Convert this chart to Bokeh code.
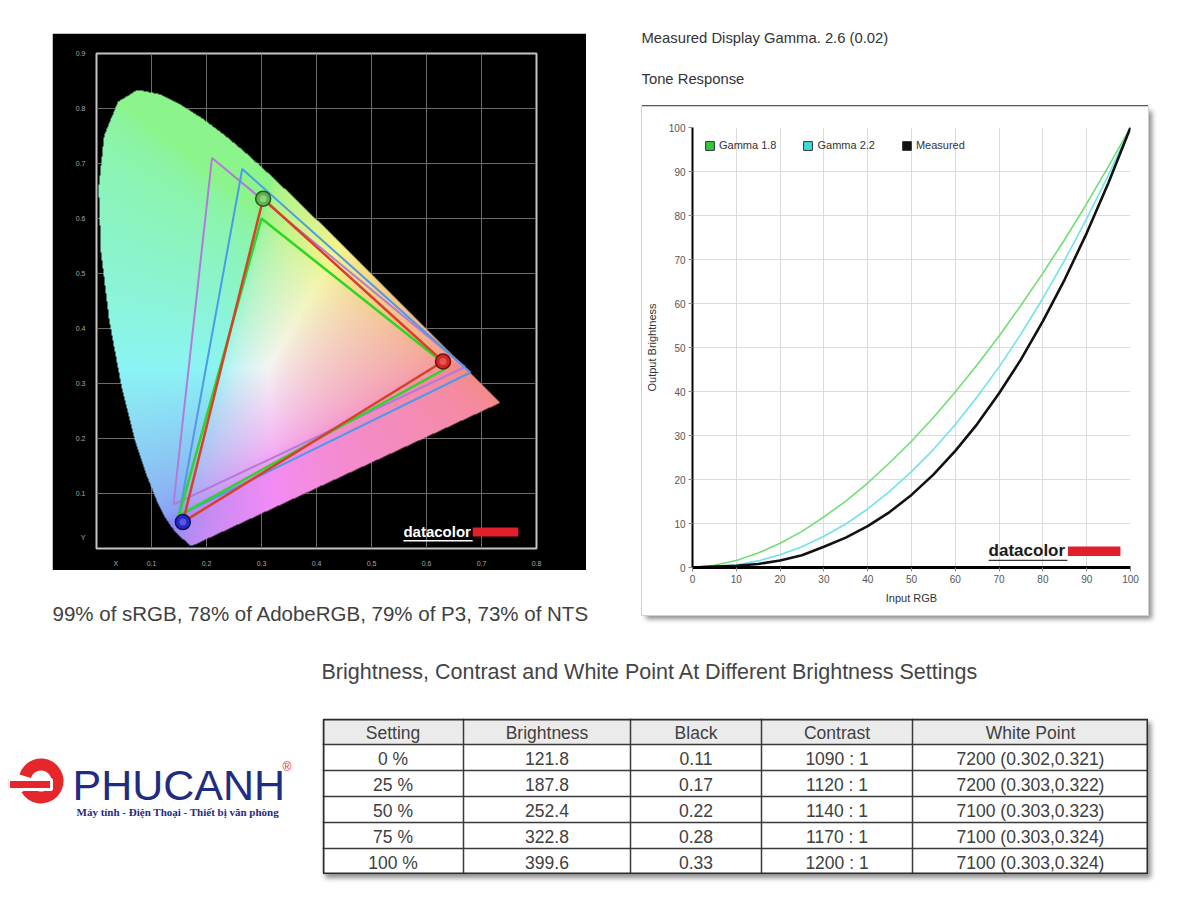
import numpy as np
from bokeh.plotting import figure
from bokeh.models import (Range1d, FixedTicker, Spacer, ColumnDataSource, Legend,
                          LegendItem)
from bokeh.layouts import column, row
from bokeh.core.properties import value
from bokeh.embed import file_html
from bokeh.resources import INLINE

FONT = "Liberation Sans"

# ------------------------------------------------------------------ data
# CIE 1931 spectral locus (380-700 nm)
locus_x = [0.1741, 0.1740, 0.1738, 0.1736, 0.1733, 0.1730, 0.1726, 0.1721, 0.1714,
           0.1703, 0.1689, 0.1669, 0.1644, 0.1611, 0.1566, 0.1510, 0.1440, 0.1355,
           0.1241, 0.1096, 0.0913, 0.0687, 0.0454, 0.0235, 0.0082, 0.0039, 0.0139,
           0.0389, 0.0743, 0.1142, 0.1547, 0.1929, 0.2296, 0.2658, 0.3016, 0.3373,
           0.3731, 0.4087, 0.4441, 0.4788, 0.5125, 0.5448, 0.5752, 0.6029, 0.6270,
           0.6482, 0.6658, 0.6801, 0.6915, 0.7006, 0.7079, 0.7140, 0.7190, 0.7230,
           0.7260, 0.7283, 0.7300, 0.7311, 0.7320, 0.7334, 0.7344, 0.7347]
locus_y = [0.0050, 0.0050, 0.0049, 0.0049, 0.0048, 0.0048, 0.0048, 0.0048, 0.0051,
           0.0058, 0.0069, 0.0086, 0.0109, 0.0138, 0.0177, 0.0227, 0.0297, 0.0399,
           0.0578, 0.0868, 0.1327, 0.2007, 0.2950, 0.4127, 0.5384, 0.6548, 0.7502,
           0.8120, 0.8338, 0.8262, 0.8059, 0.7816, 0.7543, 0.7243, 0.6923, 0.6589,
           0.6245, 0.5896, 0.5547, 0.5202, 0.4866, 0.4544, 0.4242, 0.3965, 0.3725,
           0.3514, 0.3340, 0.3197, 0.3083, 0.2993, 0.2920, 0.2859, 0.2809, 0.2770,
           0.2740, 0.2717, 0.2700, 0.2689, 0.2680, 0.2666, 0.2656, 0.2653]

# gamut triangles (R, G, B vertices)
ntsc_x = [0.67, 0.21, 0.14]
ntsc_y = [0.33, 0.71, 0.08]
p3_x = [0.68, 0.265, 0.15]
p3_y = [0.32, 0.69, 0.06]
srgb_x = [0.64, 0.30, 0.15]
srgb_y = [0.33, 0.60, 0.06]
meas_x = [0.630, 0.303, 0.157]
meas_y = [0.340, 0.636, 0.048]

cie_x_ticks = [0.035, 0.1, 0.2, 0.3, 0.4, 0.5, 0.6, 0.7, 0.8]
cie_x_labels = ["X", "0.1", "0.2", "0.3", "0.4", "0.5", "0.6", "0.7", "0.8"]
cie_y_ticks = [0.02, 0.1, 0.2, 0.3, 0.4, 0.5, 0.6, 0.7, 0.8, 0.9]
cie_y_labels = ["Y", "0.1", "0.2", "0.3", "0.4", "0.5", "0.6", "0.7", "0.8", "0.9"]
cie_grid_x = [0.1, 0.2, 0.3, 0.4, 0.5, 0.6, 0.7]
cie_grid_y = [0.1, 0.2, 0.3, 0.4, 0.5, 0.6, 0.7, 0.8]

coverage_text = "99% of sRGB, 78% of AdobeRGB, 79% of P3, 73% of NTS"

# tone response
input_rgb = [0, 5, 10, 15, 20, 25, 30, 35, 40, 45, 50, 55, 60, 65, 70, 75, 80, 85, 90, 95, 100]
gamma18 = [0, 0.5, 1.6, 3.3, 5.5, 8.2, 11.5, 15.1, 19.2, 23.8, 28.7, 34.1, 39.9, 46.1,
           52.6, 59.6, 66.9, 74.6, 82.7, 91.2, 100]
gamma22 = [0, 0.1, 0.6, 1.5, 2.9, 4.7, 7.1, 9.9, 13.3, 17.3, 21.8, 26.8, 32.5, 38.8,
           45.6, 53.1, 61.2, 69.9, 79.3, 89.3, 100]
measured = [0, 0.2, 0.4, 0.8, 1.6, 2.8, 4.7, 6.8, 9.4, 12.6, 16.5, 21.1, 26.5, 32.6,
            39.6, 47.3, 56.0, 65.5, 76.0, 87.5, 100]
tone_ticks = [0, 10, 20, 30, 40, 50, 60, 70, 80, 90, 100]
gamma_text = "Measured Display Gamma. 2.6 (0.02)"

# table
table_title = "Brightness, Contrast and White Point At Different Brightness Settings"
table_headers = ["Setting", "Brightness", "Black", "Contrast", "White Point"]
settings = [0, 25, 50, 75, 100]
brightness = [121.8, 187.8, 252.4, 322.8, 399.6]
black = [0.11, 0.17, 0.22, 0.28, 0.33]
contrast = [1090, 1120, 1140, 1170, 1200]
wp_cct = [7200, 7200, 7100, 7100, 7100]
wp_x = [0.302, 0.303, 0.303, 0.303, 0.303]
wp_y = [0.321, 0.322, 0.323, 0.324, 0.324]

# ------------------------------------------------------------------ helpers
def blank_fig(w, h, flip=True):
    p = figure(width=w, height=h, x_range=Range1d(0, w),
               y_range=Range1d(h, 0) if flip else Range1d(0, h),
               x_axis_type=None, y_axis_type=None, min_border=0,
               outline_line_color=None, toolbar_location=None,
               output_backend="svg", background_fill_color="white",
               border_fill_color="white")
    return p


def add_text(p, x, y, s, size, color="#333333", font=FONT, style="normal",
             align="left", baseline="middle"):
    p.text(x=[x], y=[y], text=[s], text_font=value(font), text_font_size=size,
           text_color=color, text_font_style=style, text_align=align,
           text_baseline=baseline)


# ------------------------------------------------------------------ CIE chart
cie = figure(width=534, height=537, x_range=Range1d(0, 0.8), y_range=Range1d(0, 0.9),
             toolbar_location=None, output_backend="svg",
             min_border_left=44, min_border_right=50, min_border_top=20,
             min_border_bottom=22, background_fill_color="black",
             border_fill_color="black", outline_line_color="#c4c4c4",
             outline_line_width=2)

nx, ny = 440, 495
gx = (np.arange(nx) + 0.5) / nx * 0.8
gy = (np.arange(ny) + 0.5) / ny * 0.9
GX, GY = np.meshgrid(gx, gy)
lx = np.array(locus_x)
ly = np.array(locus_y)
inside = np.zeros(GX.shape, dtype=bool)
j = len(lx) - 1
for i in range(len(lx)):
    xi, yi, xj, yj = lx[i], ly[i], lx[j], ly[j]
    cond = (yi > GY) != (yj > GY)
    xint = (xj - xi) * (GY - yi) / ((yj - yi) if yj != yi else 1e-12) + xi
    inside ^= cond & (GX < xint)
    j = i
Ys = np.maximum(GY, 1e-3)
Xc = GX / Ys
Zc = (1 - GX - GY) / Ys
R = 3.2406 * Xc - 1.5372 - 0.4986 * Zc
G = -0.9689 * Xc + 1.8758 + 0.0415 * Zc
B = 0.0557 * Xc - 0.2040 + 1.0570 * Zc
rgb = np.clip(np.stack([R, G, B], -1), 0, None)
rgb = rgb / np.maximum(rgb.max(-1, keepdims=True), 1e-6)
rgb = rgb ** (1 / 2.2)
rgb = (0.57 + 0.43 * rgb) * 0.96
img = np.zeros((ny, nx, 4), dtype=np.uint8)
img[..., :3] = (rgb * 255).astype(np.uint8)
img[..., 3] = np.where(inside, 255, 0)
img32 = img.view(dtype=np.uint32).reshape((ny, nx))
cie.image_rgba(image=[img32], x=0, y=0, dw=0.8, dh=0.9)

for gxs, gys, col, lw in [(ntsc_x, ntsc_y, "#b57ad8", 2),
                          (p3_x, p3_y, "#4d9ae6", 2),
                          (srgb_x, srgb_y, "#2ad62a", 2.5),
                          (meas_x, meas_y, "#d8402a", 2.5)]:
    cie.line(x=gxs + gxs[:1], y=gys + gys[:1], line_color=col, line_width=lw)

cie.scatter(x=meas_x, y=meas_y, size=15,
            fill_color=["#d42626", "#5cb34c", "#2828c8"],
            line_color=["#6e1010", "#2a5a24", "#101060"], line_width=1.5)
cie.scatter(x=meas_x, y=meas_y, size=7,
            fill_color=["#f06a5a", "#a6e08c", "#6a6af0"], line_color=None,
            fill_alpha=0.7)

# datacolor logo
cie.text(x=[0.558], y=[0.031], text=["datacolor"], text_font=value(FONT),
         text_font_size="15px", text_font_style="bold", text_color="white",
         text_baseline="middle")
cie.quad(left=[0.684], right=[0.767], bottom=[0.022], top=[0.038],
         fill_color="#e0202c", line_color=None)
cie.segment(x0=[0.558], y0=[0.014], x1=[0.684], y1=[0.014], line_color="white",
            line_width=1.5)

cie.xaxis.ticker = FixedTicker(ticks=cie_x_ticks)
cie.yaxis.ticker = FixedTicker(ticks=cie_y_ticks)
cie.xaxis.major_label_overrides = dict(zip(cie_x_ticks, cie_x_labels))
cie.yaxis.major_label_overrides = dict(zip(cie_y_ticks, cie_y_labels))
cie.xgrid.ticker = FixedTicker(ticks=cie_grid_x)
cie.ygrid.ticker = FixedTicker(ticks=cie_grid_y)
cie.grid.grid_line_color = "#6b6b6b"
cie.grid.grid_line_width = 1
for ax in (cie.xaxis, cie.yaxis):
    ax.axis_line_color = None
    ax.major_tick_line_color = None
    ax.minor_tick_line_color = None
    ax.major_label_text_color = "#a8a8a8"
    ax.major_label_text_font_size = "7px"
    ax.major_label_text_font = FONT
    ax.major_label_standoff = 5

caption_fig = blank_fig(568, 70)
add_text(caption_fig, 0, 43, coverage_text, "20.5px", color="#404040")

left_col = column(Spacer(width=612, height=25),
                  row(Spacer(width=44, height=537), cie),
                  row(Spacer(width=44, height=70), caption_fig))

# ------------------------------------------------------------------ tone response
head_fig = blank_fig(572, 99)
add_text(head_fig, 21, 29, gamma_text, "14.8px")
add_text(head_fig, 21, 70, "Tone Response", "14.8px")

tone = figure(width=506, height=508, x_range=Range1d(0, 100), y_range=Range1d(0, 100),
              toolbar_location=None, output_backend="svg",
              min_border_left=46, min_border_right=18, min_border_top=20,
              min_border_bottom=48, outline_line_color=None,
              background_fill_color="white", border_fill_color="white")
tone.styles = {"box-shadow": "0px -2px 0px #5a5a5a, 4px 4px 5px rgba(0,0,0,0.45)",
               "outline": "1px solid #d0d0d0"}
src = ColumnDataSource(dict(x=input_rgb, g18=gamma18, g22=gamma22, m=measured))
tone.line("x", "g18", source=src, line_color="#72de72", line_width=1.6)
tone.line("x", "g22", source=src, line_color="#6fe3ec", line_width=1.6)
tone.line("x", "m", source=src, line_color="#111111", line_width=2.6)

tone.text(x=[67.6], y=[3.9], text=["datacolor"], text_font=value(FONT),
          text_font_size="17px", text_font_style="bold", text_color="#1a1a1a",
          text_baseline="middle")
tone.quad(left=[85.7], right=[97.7], bottom=[2.6], top=[4.8],
          fill_color="#e0202c", line_color=None)
tone.segment(x0=[67.6], y0=[1.6], x1=[85.6], y1=[1.6], line_color="#333333",
             line_width=1.2)

nan = [float("nan")]
q1 = tone.quad(left=nan, right=nan, top=nan, bottom=nan, fill_color="#2ecc3a", line_color="#333333")
q2 = tone.quad(left=nan, right=nan, top=nan, bottom=nan, fill_color="#3edcdc", line_color="#333333")
q3 = tone.quad(left=nan, right=nan, top=nan, bottom=nan, fill_color="#111111", line_color="#333333")
legend = Legend(items=[LegendItem(label="Gamma 1.8", renderers=[q1]),
                       LegendItem(label="Gamma 2.2", renderers=[q2]),
                       LegendItem(label="Measured", renderers=[q3])],
                location="top_left", orientation="horizontal",
                background_fill_alpha=0, border_line_color=None,
                label_text_font_size="11px", label_text_font=FONT,
                label_text_color="#333333", glyph_width=11, glyph_height=11,
                spacing=26, label_standoff=4, padding=3, margin=12)
tone.add_layout(legend)

tone.xaxis.ticker = FixedTicker(ticks=tone_ticks)
tone.yaxis.ticker = FixedTicker(ticks=tone_ticks)
tone.grid.grid_line_color = "#dcdcdc"
tone.xaxis.axis_line_width = 3
tone.yaxis.axis_line_width = 2
for ax in (tone.xaxis, tone.yaxis):
    ax.axis_line_color = "black"
    ax.major_tick_line_color = "#888888"
    ax.major_tick_out = 4
    ax.major_tick_in = 0
    ax.minor_tick_line_color = None
    ax.major_label_text_color = "#555555"
    ax.major_label_text_font_size = "10px"
    ax.major_label_text_font = FONT
    ax.major_label_standoff = 3
    ax.axis_label_text_font_size = "11px"
    ax.axis_label_text_font = FONT
    ax.axis_label_text_font_style = "normal"
    ax.axis_label_text_color = "#333333"
tone.xaxis.axis_label = "Input RGB"
tone.yaxis.axis_label = "Output Brightness"
tone.xaxis.axis_label_standoff = 6
tone.yaxis.axis_label_standoff = 8

right_col = column(head_fig, row(Spacer(width=22, height=508), tone))

top_row = row(left_col, right_col)

# ------------------------------------------------------------------ logo
logo = blank_fig(308, 252, flip=False)
logo.annular_wedge(x=[32.5], y=[111.5], inner_radius=10.5, outer_radius=22.5,
                   start_angle=-150, end_angle=163, start_angle_units="deg",
                   end_angle_units="deg", fill_color="#e5262b", line_color=None)
logo.quad(left=[0], right=[43], bottom=[103], top=[113], fill_color="#e5262b",
          line_color="white", line_width=3)
add_text(logo, 64, 108, "PHUCANH", "43px", color="#1f2c82")
add_text(logo, 274, 126, "®", "12px", color="#e03030")
add_text(logo, 68, 81, "Máy tính - Điện Thoại - Thiết bị văn phòng", "11px",
         color="#1f2c82", font="Liberation Serif", style="bold")

# ------------------------------------------------------------------ table
title_fig = blank_fig(876, 78)
add_text(title_fig, 5, 31, table_title, "21.5px", color="#444444")

TW, TH = 826, 156
col_edges = [0, 141, 308, 439, 590, 826]
row_h = 26
tbl = blank_fig(TW, TH)
tbl.styles = {"box-shadow": "3px 4px 5px rgba(0,0,0,0.45)"}
tbl.quad(left=[0], right=[TW], top=[0], bottom=[row_h], fill_color="#ebebeb",
         line_color=None)
n_rows = len(settings) + 1
hy = [row_h * k for k in range(1, n_rows)]
tbl.segment(x0=[0] * len(hy), y0=hy, x1=[TW] * len(hy), y1=hy,
            line_color="#3a3a3a", line_width=1.5)
vx = col_edges[1:-1]
tbl.segment(x0=vx, y0=[0] * len(vx), x1=vx, y1=[TH] * len(vx),
            line_color="#3a3a3a", line_width=1.5)
tbl.quad(left=[1], right=[TW - 1], top=[1], bottom=[TH - 1], fill_color=None,
         line_color="#2a2a2a", line_width=2)

cells = [table_headers]
for k in range(len(settings)):
    cells.append([f"{settings[k]} %", f"{brightness[k]:.1f}", f"{black[k]:.2f}",
                  f"{contrast[k]} : 1",
                  f"{wp_cct[k]} ({wp_x[k]:.3f},{wp_y[k]:.3f})"])
cx, cy, ct = [], [], []
for r, vals in enumerate(cells):
    for c, s in enumerate(vals):
        cx.append((col_edges[c] + col_edges[c + 1]) / 2)
        cy.append(r * row_h + row_h / 2 + 1)
        ct.append(s)
tbl.text(x=cx, y=cy, text=ct, text_font=value(FONT), text_font_size="17.5px",
         text_color="#404040", text_align="center", text_baseline="middle")

table_col = column(title_fig, row(Spacer(width=6, height=TH), tbl))
bottom_row = row(logo, table_col)

content = column(top_row, bottom_row)
layout = column(Spacer(width=1192, height=8), row(Spacer(width=8, height=884), content))

open("out.html", "w").write(file_html(layout, INLINE))
